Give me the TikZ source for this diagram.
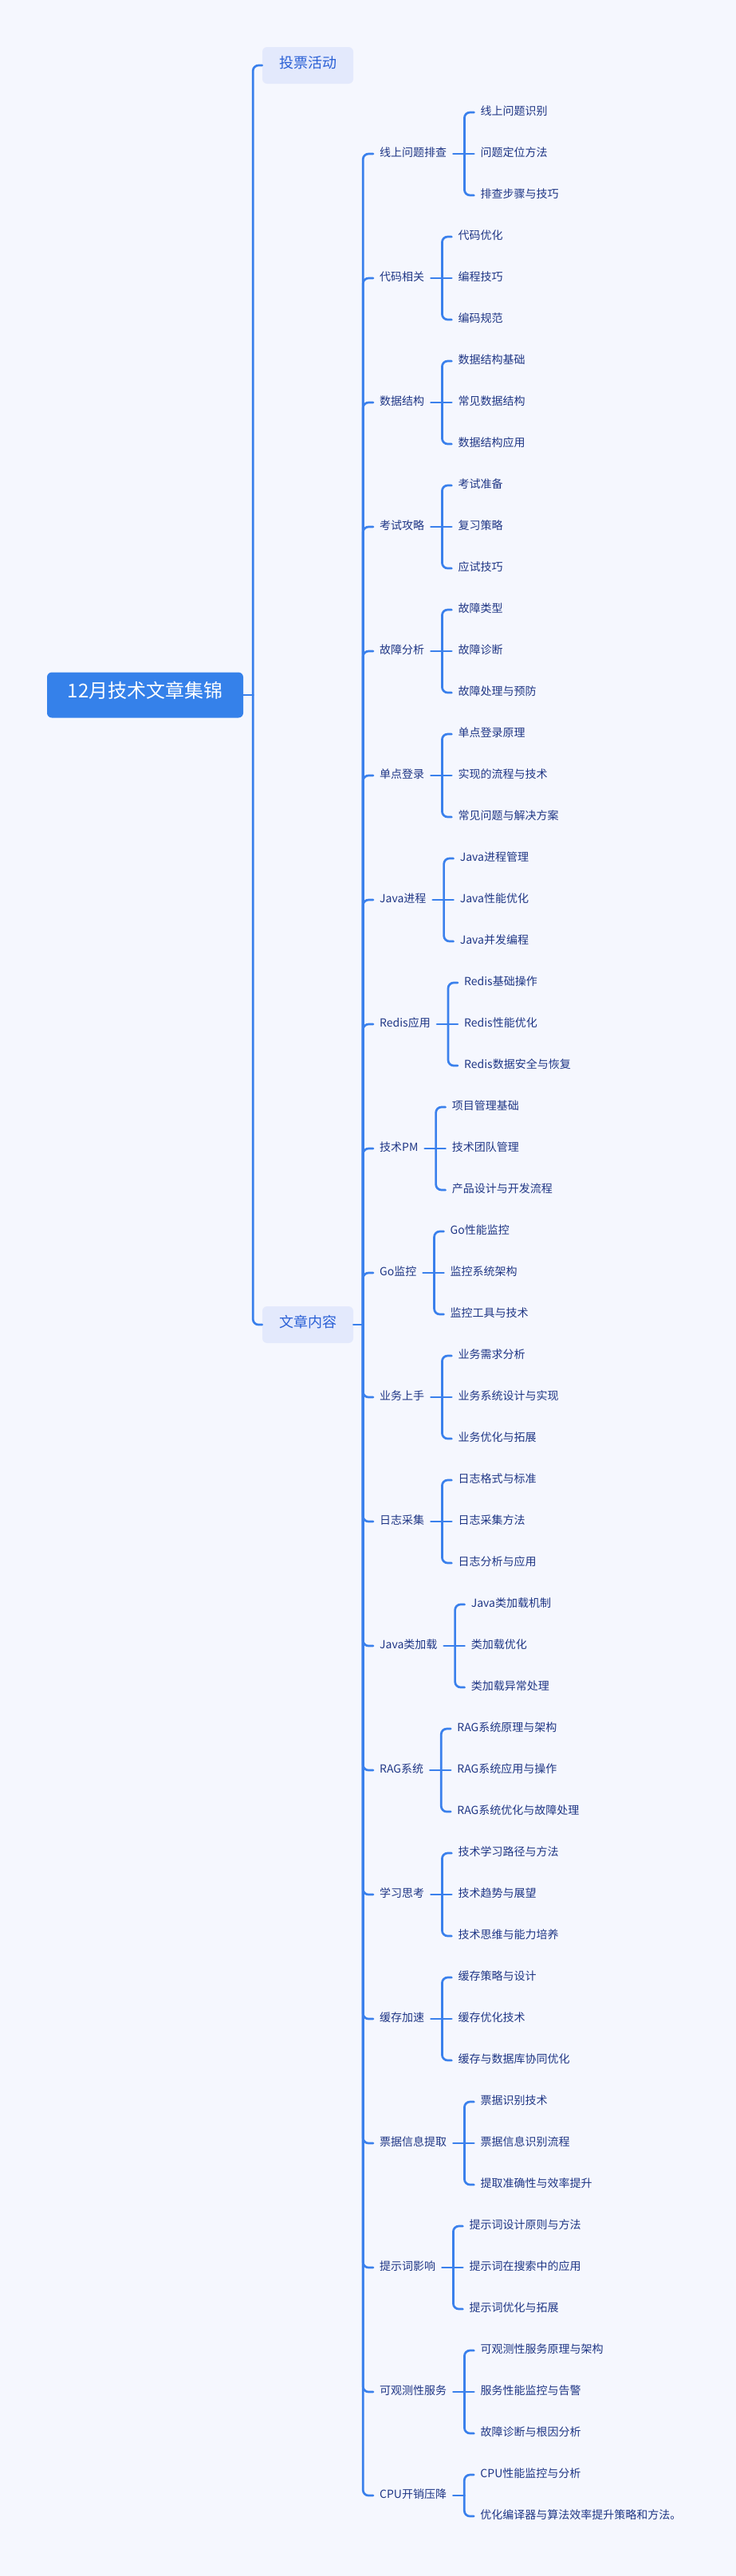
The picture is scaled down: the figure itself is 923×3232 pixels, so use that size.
\documentclass[tikz,border=0pt]{standalone}
\usepackage{fontspec}
\setmainfont{Noto Sans CJK SC}
\usetikzlibrary{calc}
\definecolor{bg}{HTML}{F5F7FE}
\definecolor{rootc}{HTML}{3581EA}
\definecolor{linec}{HTML}{3A80EC}
\definecolor{lonefill}{HTML}{E3E9FC}
\definecolor{lonetext}{HTML}{2A60D6}
\definecolor{labtext}{HTML}{1F3685}
\tikzset{
  conn/.style={draw=linec, line width=2.7pt, line cap=round, rounded corners=7pt},
  rootnode/.style={fill=rootc, rounded corners=6pt, minimum width=246pt, minimum height=57pt,
    inner sep=0pt, text=white, font=\fontsize{24}{28}\selectfont, text height=0.85em, text depth=0.1em},
  lonenode/.style={fill=lonefill, rounded corners=6pt, minimum width=114pt, minimum height=46pt,
    inner sep=0pt, text=lonetext, font=\fontsize{18}{22}\selectfont, text height=0.85em, text depth=0.1em},
  lab/.style={anchor=west, inner xsep=8pt, inner ysep=2pt, text=labtext,
    font=\fontsize{14}{16}\selectfont, text height=0.85em, text depth=0.1em},
}
\newcommand\grp[6]{%
  \node[lab] (#1) at (468,#2) {#3};
  \draw[conn] (sp2) |- (#1.west);
  \coordinate (#1s) at ($(#1.east)+(14,0)$);
  \draw[conn] (#1.east) -- (#1s);
  \node[lab] (#1a) at ($(#1s)+(12,-52)$) {#4};
  \node[lab] (#1b) at ($(#1s)+(12,0)$) {#5};
  \node[lab] (#1c) at ($(#1s)+(12,52)$) {#6};
  \draw[conn] (#1s) |- (#1a.west);
  \draw[conn] (#1s) -- (#1b.west);
  \draw[conn] (#1s) |- (#1c.west);
}
\newcommand\grptwo[5]{%
  \node[lab] (#1) at (468,#2) {#3};
  \draw[conn] (sp2) |- (#1.west);
  \coordinate (#1s) at ($(#1.east)+(14,0)$);
  \draw[conn] (#1.east) -- (#1s);
  \node[lab] (#1a) at ($(#1s)+(12,-26)$) {#4};
  \node[lab] (#1b) at ($(#1s)+(12,26)$) {#5};
  \draw[conn] (#1s) |- (#1a.west);
  \draw[conn] (#1s) |- (#1b.west);
}
\begin{document}
\begin{tikzpicture}[x=1pt,y=-1pt]
\fill[bg] (0,0) rectangle (923,3232);
\useasboundingbox (0,0) rectangle (923,3232);
\node[rootnode] (root) at (182,872) {12月技术文章集锦};
\node[lonenode] (v1) at (386,82) {投票活动};
\node[lonenode] (v2) at (386,1662) {文章内容};
\coordinate (s0) at ($(root.east)+(12,0)$);
\draw[conn] (root.east) -- (s0);
\draw[conn] (s0) |- (v1.west);
\draw[conn] (s0) |- (v2.west);
\coordinate (sp2) at ($(v2.east)+(12,0)$);
\draw[conn] (v2.east) -- (sp2);
\grp{ga}{193}{线上问题排查}{线上问题识别}{问题定位方法}{排查步骤与技巧}
\grp{gb}{349}{代码相关}{代码优化}{编程技巧}{编码规范}
\grp{gc}{505}{数据结构}{数据结构基础}{常见数据结构}{数据结构应用}
\grp{gd}{661}{考试攻略}{考试准备}{复习策略}{应试技巧}
\grp{ge}{817}{故障分析}{故障类型}{故障诊断}{故障处理与预防}
\grp{gf}{973}{单点登录}{单点登录原理}{实现的流程与技术}{常见问题与解决方案}
\grp{gg}{1129}{Java进程}{Java进程管理}{Java性能优化}{Java并发编程}
\grp{gh}{1285}{Redis应用}{Redis基础操作}{Redis性能优化}{Redis数据安全与恢复}
\grp{gi}{1441}{技术PM}{项目管理基础}{技术团队管理}{产品设计与开发流程}
\grp{gj}{1597}{Go监控}{Go性能监控}{监控系统架构}{监控工具与技术}
\grp{gk}{1753}{业务上手}{业务需求分析}{业务系统设计与实现}{业务优化与拓展}
\grp{gl}{1909}{日志采集}{日志格式与标准}{日志采集方法}{日志分析与应用}
\grp{gm}{2065}{Java类加载}{Java类加载机制}{类加载优化}{类加载异常处理}
\grp{gn}{2221}{RAG系统}{RAG系统原理与架构}{RAG系统应用与操作}{RAG系统优化与故障处理}
\grp{go}{2377}{学习思考}{技术学习路径与方法}{技术趋势与展望}{技术思维与能力培养}
\grp{gp}{2533}{缓存加速}{缓存策略与设计}{缓存优化技术}{缓存与数据库协同优化}
\grp{gq}{2689}{票据信息提取}{票据识别技术}{票据信息识别流程}{提取准确性与效率提升}
\grp{gr}{2845}{提示词影响}{提示词设计原则与方法}{提示词在搜索中的应用}{提示词优化与拓展}
\grp{gs}{3001}{可观测性服务}{可观测性服务原理与架构}{服务性能监控与告警}{故障诊断与根因分析}
\grptwo{gt}{3131}{CPU开销压降}{CPU性能监控与分析}{优化编译器与算法效率提升策略和方法。}
\end{tikzpicture}
\end{document}
